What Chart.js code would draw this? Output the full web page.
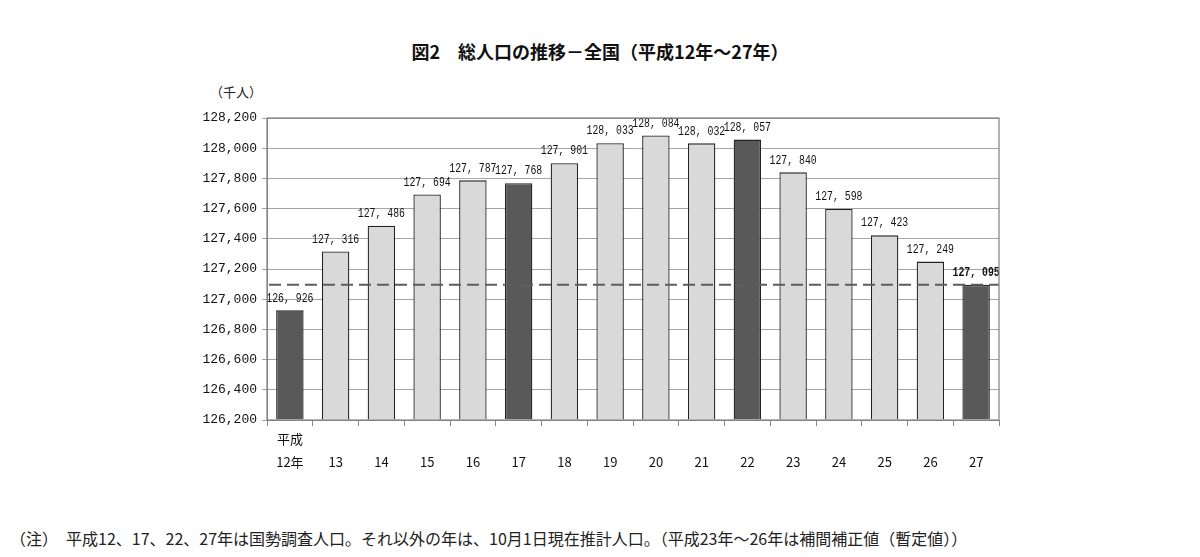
<!DOCTYPE html>
<html lang="ja">
<head>
<meta charset="utf-8">
<script src="https://cdn.jsdelivr.net/npm/chart.js@4"></script>
<style>
  html, body { margin: 0; padding: 0; background: #fff; }
  body { width: 1200px; height: 557px; position: relative; overflow: hidden; font-family: "Noto Sans CJK JP", sans-serif; }
  #title { position: absolute; top: 38px; left: 0; width: 1200px; text-align: center; font-size: 18px; font-weight: bold; color: #111; white-space: pre; }
  #unit { position: absolute; top: 82px; left: 210px; font-size: 13px; color: #222; }
  #note { position: absolute; top: 526px; left: 10px; font-size: 16px; color: #222; white-space: pre; }
  #wrap { position: absolute; left: 0; top: 0; width: 1200px; height: 557px; }
</style>
</head>
<body>
<div id="title">図2　総人口の推移－全国（平成12年～27年）</div>
<div id="unit">（千人）</div>
<div id="note">（注）　平成12、17、22、27年は国勢調査人口。それ以外の年は、10月1日現在推計人口。（平成23年～26年は補間補正値（暫定値））</div>
<div id="wrap"><canvas id="chart"></canvas></div>
<script>
// ================= DATA =================
const years = [["平成", "12年"], ["", "13"], ["", "14"], ["", "15"], ["", "16"], ["", "17"], ["", "18"], ["", "19"],
  ["", "20"], ["", "21"], ["", "22"], ["", "23"], ["", "24"], ["", "25"], ["", "26"], ["", "27"]];
const population = [126926, 127316, 127486, 127694, 127787, 127768, 127901, 128033,
  128084, 128032, 128057, 127840, 127598, 127423, 127249, 127095];
// census years are drawn dark
const censusYears = ["12年", "17", "22", "27"];
const referenceValue = 127095;
const yMin = 126200;
const yMax = 128200;
const yStep = 200;

const DARK = "#595959";
const LIGHT = "#d9d9d9";

const barColors = years.map(y => censusYears.includes(y[1]) ? DARK : LIGHT);

// ================= PLUGIN: frame, dashed line, labels =================
const extrasPlugin = {
  id: "extras",
  afterDatasetsDraw(chart) {
    const ctx = chart.ctx;
    const area = chart.chartArea;
    const yScale = chart.scales.y;

    // dashed reference line (latest census value)
    const yRef = yScale.getPixelForValue(referenceValue);
    ctx.save();
    ctx.strokeStyle = "#5e5e5e";
    ctx.lineWidth = 2;
    ctx.setLineDash([12, 6]);
    ctx.beginPath();
    ctx.moveTo(area.left + 2, yRef);
    ctx.lineTo(area.right, yRef);
    ctx.stroke();
    ctx.restore();

    // value labels (narrow, like the original)
    const meta = chart.getDatasetMeta(0);
    ctx.fillStyle = "#111";
    ctx.textAlign = "center";
    ctx.textBaseline = "bottom";
    meta.data.forEach((bar, i) => {
      const last = i === population.length - 1;
      ctx.save();
      ctx.font = (last ? "bold " : "") + "12px 'Liberation Mono', monospace";
      ctx.translate(bar.x, bar.y - 6);
      ctx.scale(0.82, 1);
      const txt = population[i].toLocaleString("en-US").replace(",", ", ");
      ctx.fillText(txt, 0, 0);
      ctx.restore();
    });

    // plot frame
    ctx.save();
    ctx.strokeStyle = "#808080";
    ctx.lineWidth = 1.2;
    ctx.strokeRect(area.left, area.top, area.right - area.left, area.bottom - area.top);
    ctx.restore();
  }
};

// ================= CHART =================
new Chart(document.getElementById("chart"), {
  type: "bar",
  data: {
    labels: years,
    datasets: [{
      label: "総人口",
      data: population,
      backgroundColor: barColors,
      borderColor: "#222",
      borderWidth: 1.3,
      categoryPercentage: 1,
      barPercentage: 0.6,
      base: yMin
    }]
  },
  options: {
    responsive: true,
    maintainAspectRatio: false,
    animation: false,
    layout: { padding: { left: 0, right: 201, top: 118, bottom: 0 } },
    plugins: {
      legend: { display: false },
      tooltip: { enabled: false }
    },
    scales: {
      x: {
        offset: true,
        grid: { offset: true, drawOnChartArea: false, drawTicks: true, tickLength: 6, color: "#888" },
        border: { color: "#888" },
        ticks: {
          color: "#111",
          font: { family: "'Noto Sans CJK JP', sans-serif", size: 13, lineHeight: 1.75 },
          padding: 2,
          maxRotation: 0,
          autoSkip: false
        },
        afterFit(scale) { scale.height = 137; }
      },
      y: {
        min: yMin,
        max: yMax,
        grid: { color: "#a6a6a6", lineWidth: 1, tickLength: 5 },
        border: { color: "#888" },
        ticks: {
          stepSize: yStep,
          color: "#111",
          padding: 5,
          font: { family: "'Liberation Mono', monospace", size: 13 },
          callback: v => v.toLocaleString("en-US")
        },
        afterFit(scale) { scale.width = 267; }
      }
    }
  },
  plugins: [extrasPlugin]
});
</script>
</body>
</html>
